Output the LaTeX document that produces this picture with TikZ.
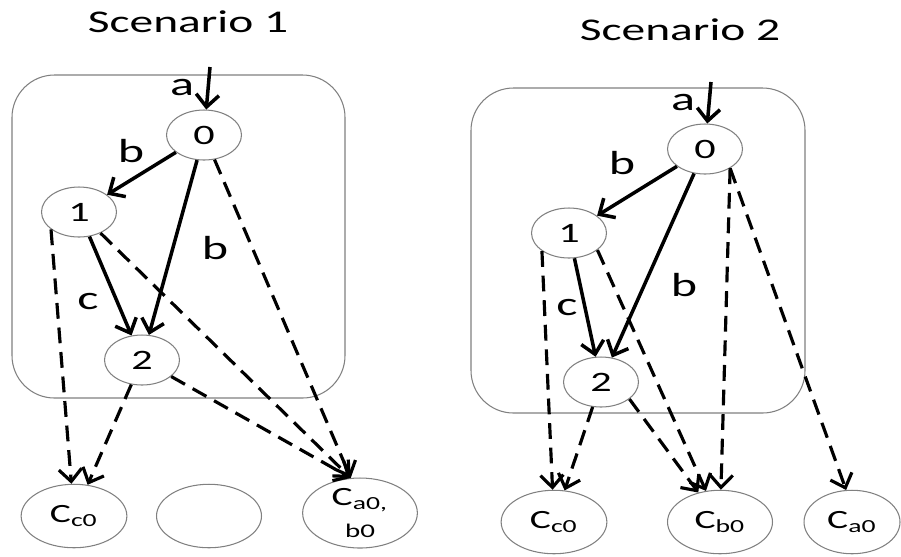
\documentclass[tikz,border=0pt]{standalone}
\usepackage{fontspec}
\setmainfont{Carlito}
\usetikzlibrary{shapes.geometric,arrows.meta}

\begin{document}
\begin{tikzpicture}[x=0.02cm, y=-0.02cm,
		st/.style={circle, draw=gray, line width=0.6pt, minimum size=1cm, inner sep=0pt, xscale=1.5, font=\fontsize{16}{18}\selectfont},
		cnode/.style={ellipse, draw=gray, line width=0.6pt, inner sep=0pt, xscale=1.5, minimum height=1.27cm, font=\fontsize{15}{18}\selectfont},
		lbl/.style={xscale=1.5, font=\fontsize{19}{19}\selectfont},
		heading/.style={xscale=1.5, font=\fontsize{18}{18}\selectfont},
		scen/.style={draw=gray, line width=0.6pt, rounded corners=0.85cm},
		trans/.style={line width=2pt, -{Straight Barb[length=7pt,width=13pt]}},
		dep/.style={trans, line width=1.8pt, dash pattern=on 9pt off 5pt}]
			\useasboundingbox (0,0) rectangle (901,556);
			
			% scenario 1
			\node[heading] (s1title) at (188,22) {Scenario 1};
			\draw[scen] (12,75) rectangle (345,398);
			\node[st] (s1n0) at (204,135) {0};
			\node[st] (s1n1) at (79,212) {1};
			\node[st] (s1n2) at (142,360) {2};
			\node[cnode, minimum width=1.41cm] (s1cc) at (74,516) {C\textsubscript{c0}};
			\node[cnode, minimum width=1.4cm] (s1cx) at (209,516) {};
			\node[cnode, minimum width=1.53cm, minimum height=1.4cm, align=center] (s1cab) at (360,513) {C\textsubscript{a0,}\\\fontsize{11}{11}\selectfont b0};
			\coordinate (s1in) at (210,67);
			
			\draw[trans] (s1in) -- (s1n0);
			\draw[trans] (s1n0) -- (s1n1);
			\draw[trans] (s1n0) -- (s1n2);
			\draw[trans] (s1n1) -- (s1n2);
			\node[lbl] (s1a) at (182,88) {a};
			\node[lbl] (s1b1) at (131,151) {b};
			\node[lbl] (s1b2) at (215,248) {b};
			\node[lbl] (s1c) at (88,302) {c};
			
			% dashed
			\foreach \u/\v in {s1n1.223/s1cc, s1n2/s1cc, s1n0/s1cab.100, s1n1/s1cab.100, s1n2/s1cab.100}
				\draw[dep] (\u) -- (\v);
			
			% scenario 2
			\node[heading] (s2title) at (680,30) {Scenario 2};
			\draw[scen] (471,88) rectangle (805,413);
			\node[st] (s2n0) at (705,149) {0};
			\node[st] (s2n1) at (569,233) {1};
			\node[st] (s2n2) at (601,382) {2};
			\node[cnode, minimum width=1.41cm] (s2cc) at (554,522) {C\textsubscript{c0}};
			\node[cnode, minimum width=1.4cm] (s2cb) at (720,522) {C\textsubscript{b0}};
			\node[cnode, minimum width=1.28cm] (s2ca) at (852,522) {C\textsubscript{a0}};
			\coordinate (s2in) at (711,82);
			
			\draw[trans] (s2in) -- (s2n0);
			\draw[trans] (s2n0) -- (s2n1);
			\draw[trans] (s2n0) -- (s2n2);
			\draw[trans] (s2n1) -- (s2n2);
			\node[lbl] (s2a) at (683,103) {a};
			\node[lbl] (s2b1) at (622,163) {b};
			\node[lbl] (s2b2) at (684,285) {b};
			\node[lbl] (s2c) at (567,308) {c};
			
			% dashed
			\foreach \u/\v in {s2n1.225/s2cc, s2n2/s2cc, s2n1.318/s2cb, s2n2.318/s2cb, s2n0.311/s2cb, s2n0.311/s2ca.97}
				\draw[dep] (\u) -- (\v);
		\end{tikzpicture}
\end{document}
